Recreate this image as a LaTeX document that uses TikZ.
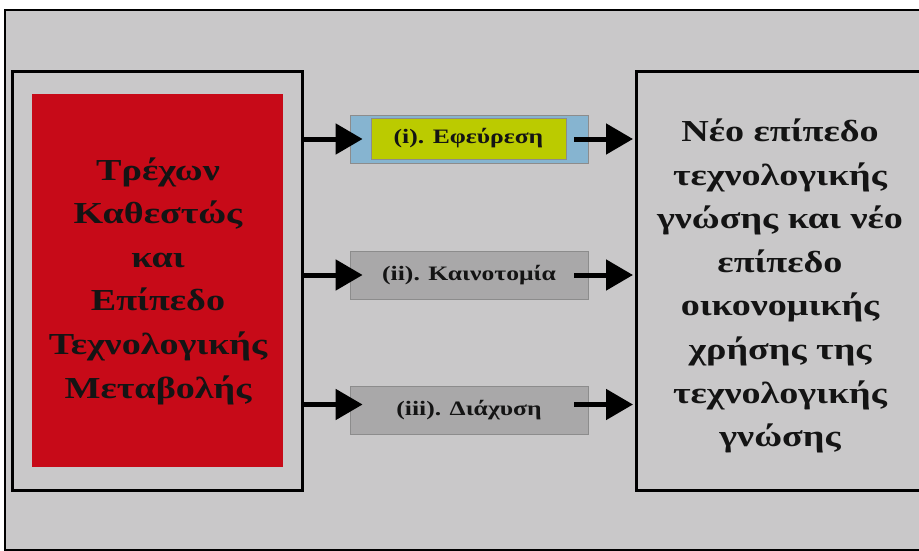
\documentclass[tikz,border=0pt]{standalone}
\usepackage{fontspec}
\setmainfont{Liberation Serif}
\newfontfamily\widserif[FakeStretch=1.25]{Liberation Serif}
\usetikzlibrary{arrows.meta}
\definecolor{panel}{HTML}{C9C8C9}
\definecolor{redbox}{HTML}{C70A18}
\definecolor{bluebox}{HTML}{86B4D0}
\definecolor{limebox}{HTML}{BBCB00}
\definecolor{greybox}{HTML}{A9A8A9}
\definecolor{inkdark}{HTML}{141414}
\tikzset{
  frame/.style={draw=black, line width=3pt, fill=panel, inner sep=0pt},
  bigtext/.style={font=\widserif\bfseries\fontsize{30.5}{43.6}\selectfont, text=inkdark, align=center},
  stage/.style={draw=black!45, line width=0.8pt, minimum width=238pt, minimum height=48pt, inner sep=0pt},
  stagetext/.style={font=\widserif\bfseries\fontsize{20.5}{22}\selectfont, text=inkdark},
  flow/.style={line width=5pt, -{Triangle[length=27pt,width=30pt]}},
}
\begin{document}
\begin{tikzpicture}[x=1pt,y=-1pt]
\useasboundingbox (0,0) rectangle (919,551);
\fill[white] (0,0) rectangle (919,551);
\begin{scope}
\clip (0,0) rectangle (919,551);
% outer panel
\draw[line width=2.5pt, fill=panel] (5,10) rectangle (940,550);
% left block
\node[frame, minimum width=290pt, minimum height=418pt] (left) at (157,281) {};
\node[fill=redbox, minimum width=251pt, minimum height=373pt, inner sep=0pt] (red) at (157.5,280.5) {};
\node[bigtext] (lefttext) at (158,281) {Τρέχων\\Καθεστώς\\και\\Επίπεδο\\Τεχνολογικής\\Μεταβολής};
% right block
\node[frame, minimum width=290pt, minimum height=418pt] (right) at (781,281) {};
\node[bigtext] (righttext) at (780,286) {Νέο επίπεδο\\τεχνολογικής\\γνώσης και νέο\\επίπεδο\\οικονομικής\\χρήσης της\\τεχνολογικής\\γνώσης};
% middle stages
\node[stage, fill=bluebox] (s1) at (469,139) {};
\node[draw=black!45, line width=0.6pt, fill=limebox, minimum width=195pt, minimum height=41pt, inner sep=0pt, stagetext] (s1in) at (468.5,138.5) {(i). Εφεύρεση};
\node[stage, fill=greybox, stagetext] (s2) at (469,275) {(ii). Καινοτομία};
\node[stage, fill=greybox, stagetext] (s3) at (469,410.5) {(iii). Διάχυση};
% connectors
\draw[flow, shorten >=-13pt] (left.east |- s1) -- (s1.west);
\draw[flow, shorten >=-13pt] (left.east |- s2) -- (s2.west);
\draw[flow, shorten >=-13pt] ([yshift=6pt]left.east |- s3) -- ([yshift=6pt]s3.west);
\draw[flow, shorten <=-14pt, shorten >=1.5pt] (s1.east) -- (right.west |- s1);
\draw[flow, shorten <=-14pt, shorten >=1.5pt] (s2.east) -- (right.west |- s2);
\draw[flow, shorten <=-14pt, shorten >=1.5pt] ([yshift=6pt]s3.east) -- ([yshift=6pt]right.west |- s3);
\end{scope}
\end{tikzpicture}
\end{document}
